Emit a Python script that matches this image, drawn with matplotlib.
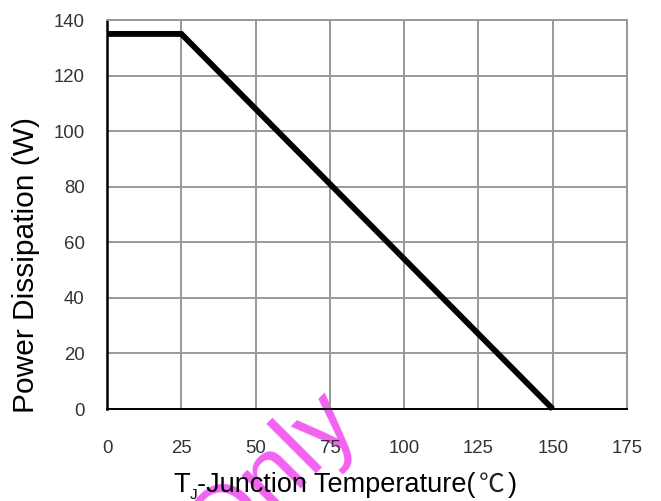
import numpy as np
import matplotlib
matplotlib.use("Agg")
import matplotlib.pyplot as plt

# derating curve: flat to 25C, then linear down to 0 W at 150C
temp_c = [0, 25, 150]
power_w = [135, 135, 0]

x_ticks = [0, 25, 50, 75, 100, 125, 150, 175]
y_ticks = [0, 20, 40, 60, 80, 100, 120, 140]

plt.rcParams['font.family'] = ['Liberation Sans', 'Noto Sans CJK SC', 'DejaVu Sans']

fig = plt.figure(figsize=(6.61, 5.01), dpi=100)
ax = fig.add_axes([0.162, 0.1836, 0.7866, 0.7764])
ax.set_facecolor('none')

ax.plot(temp_c, power_w, color='black', linewidth=4.2, solid_capstyle='butt',
        solid_joinstyle='miter', zorder=3, clip_on=False)

ax.set_xlim(0, 175)
ax.set_ylim(0, 140)
ax.set_xticks(x_ticks)
ax.set_yticks(y_ticks)
ax.grid(True, color='#999999', linewidth=1.4)
ax.set_axisbelow(True)
ax.tick_params(length=0, labelsize=13.4, labelcolor='#333333')
ax.tick_params(axis='x', pad=22)
ax.tick_params(axis='y', pad=16)

for side in ['top', 'right']:
    ax.spines[side].set_color('#999999')
    ax.spines[side].set_linewidth(1.4)
ax.spines['left'].set_color('black')
ax.spines['left'].set_linewidth(1.8)
ax.spines['bottom'].set_color('black')
ax.spines['bottom'].set_linewidth(1.4)

# y label
fig.text(26 / 661, 1 - 265 / 501, "Power Dissipation (W)", rotation=90,
         fontsize=21.5, ha='center', va='center', color='black')

# x label with subscript J, built from pieces
fs = 19.5
t1 = fig.text(173 / 661, 1 - 492 / 501, "T", fontsize=fs, ha='left',
              va='baseline', color='black')
t2 = ax.annotate("J", xy=(1, 0), xycoords=t1, xytext=(0, -3),
                 textcoords='offset points', fontsize=11, ha='left',
                 va='bottom', color='black', annotation_clip=False)
t3 = ax.annotate("-Junction Temperature(", xy=(1, 0), xycoords=t2,
                 xytext=(0, 3), textcoords='offset points', fontsize=fs,
                 ha='left', va='bottom', color='black', annotation_clip=False)
t4 = ax.annotate("\u2103", xy=(1, 0), xycoords=t3, xytext=(2.5, 0),
                 textcoords='offset points', fontsize=fs - 1,
                 family=['Noto Sans CJK SC'], ha='left', va='bottom',
                 color='#222222', annotation_clip=False)
t5 = ax.annotate(")", xy=(1, 0), xycoords=t4, xytext=(2, 0),
                 textcoords='offset points', fontsize=fs, ha='left',
                 va='bottom', color='black', annotation_clip=False)

# watermark, sits behind everything
fig.text(219 / 661, 1 - 566 / 501, "Only", rotation=45, rotation_mode='anchor',
         fontsize=70, ha='left', va='baseline', color='#f050f0', alpha=0.9,
         zorder=-1)

fig.savefig("out.png", dpi=100)
